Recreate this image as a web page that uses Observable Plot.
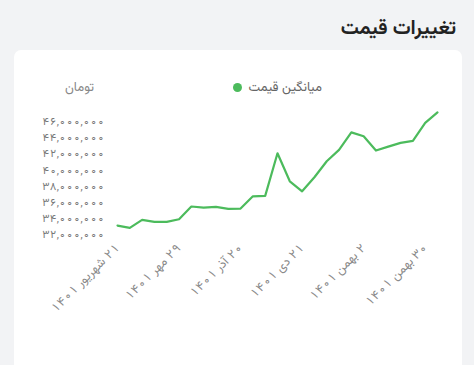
<!DOCTYPE html>
<html>
<head>
<meta charset="utf-8">
<script src="https://cdn.jsdelivr.net/npm/d3@7"></script>
<script src="https://cdn.jsdelivr.net/npm/@observablehq/plot@0.6"></script>
<style>
  html, body { margin: 0; padding: 0; }
  body {
    width: 474px; height: 365px; overflow: hidden; position: relative;
    background: #f2f3f5;
    font-family: Vazirmatn, "Noto Sans Arabic", "DejaVu Sans", sans-serif;
  }
  #title {
    position: absolute; right: 18px; top: 14px; line-height: 30px;
    font-size: 20px; font-weight: bold; color: #222; direction: rtl;
  }
  #card {
    position: absolute; left: 14px; top: 50px; width: 448px; height: 330px;
    background: #fff; border-radius: 7px;
  }
  #legend {
    position: absolute; right: 152px; top: 78px; line-height: 20px;
    font-size: 13px; color: #666; direction: rtl; white-space: nowrap;
  }
  #legend .dot {
    display: inline-block; width: 9px; height: 9px; border-radius: 50%;
    background: #4cbb5c; margin-right: 6px; vertical-align: middle;
  }
  #unit {
    position: absolute; left: 65px; top: 78px; line-height: 20px;
    font-size: 13px; color: #888; direction: rtl;
  }
  #chart { position: absolute; left: 0; top: 100px; }
</style>
</head>
<body>
<div id="title">تغییرات قیمت</div>
<div id="card"></div>
<div id="legend">میانگین قیمت<span class="dot"></span></div>
<div id="unit">تومان</div>
<div id="chart"></div>
<script>
// Average price (toman), one point per observation
const prices = [
  33110000, 32830000, 33820000, 33570000, 33570000, 33890000,
  35470000, 35340000, 35430000, 35180000, 35220000, 36740000,
  36790000, 42070000, 38600000, 37360000, 39100000, 41080000,
  42490000, 44670000, 44180000, 42410000, 42900000, 43360000,
  43610000, 45840000, 47150000
];
// x tick labels shown (every fifth point)
const tickIndex = [0, 5, 10, 15, 20, 25];
const tickLabels = [
  "۲۱ شهریور ۱۴۰۱", "۲۹ مهر ۱۴۰۱", "۲۰ آذر ۱۴۰۱",
  "۲۱ دی ۱۴۰۱", "۲ بهمن ۱۴۰۱", "۳۰ بهمن ۱۴۰۱"
];
const yTicks = [32e6, 34e6, 36e6, 38e6, 40e6, 42e6, 44e6, 46e6];

const data = prices.map((v, i) => ({i, v}));
const fa = s => String(s).replace(/[0-9]/g, d => "۰۱۲۳۴۵۶۷۸۹"[d]);

const chart = Plot.plot({
  width: 474,
  height: 265,
  marginLeft: 117,
  marginRight: 37,
  marginTop: 5,
  marginBottom: 131,
  style: {fontFamily: 'Vazirmatn, "Noto Sans Arabic", "DejaVu Sans", sans-serif', background: "transparent"},
  x: {domain: [0, prices.length - 1]},
  y: {domain: [32e6, 48e6]},
  marks: [
    Plot.axisY({
      ticks: yTicks, tickSize: 0, tickPadding: 13, label: null,
      tickFormat: d => fa(d3.format(",")(d)),
      fontSize: 11, fill: "#777"
    }),
    Plot.axisX({
      ticks: tickIndex, tickSize: 0, tickPadding: 11, label: null, tickRotate: -45,
      tickFormat: d => "\u202B" + tickLabels[tickIndex.indexOf(d)] + "\u202C",
      fontSize: 12.5, fill: "#8a8a8a"
    }),
    Plot.line(data, {x: "i", y: "v", stroke: "#4cbb5c", strokeWidth: 2.2})
  ]
});
document.getElementById("chart").appendChild(chart);
</script>
</body>
</html>
